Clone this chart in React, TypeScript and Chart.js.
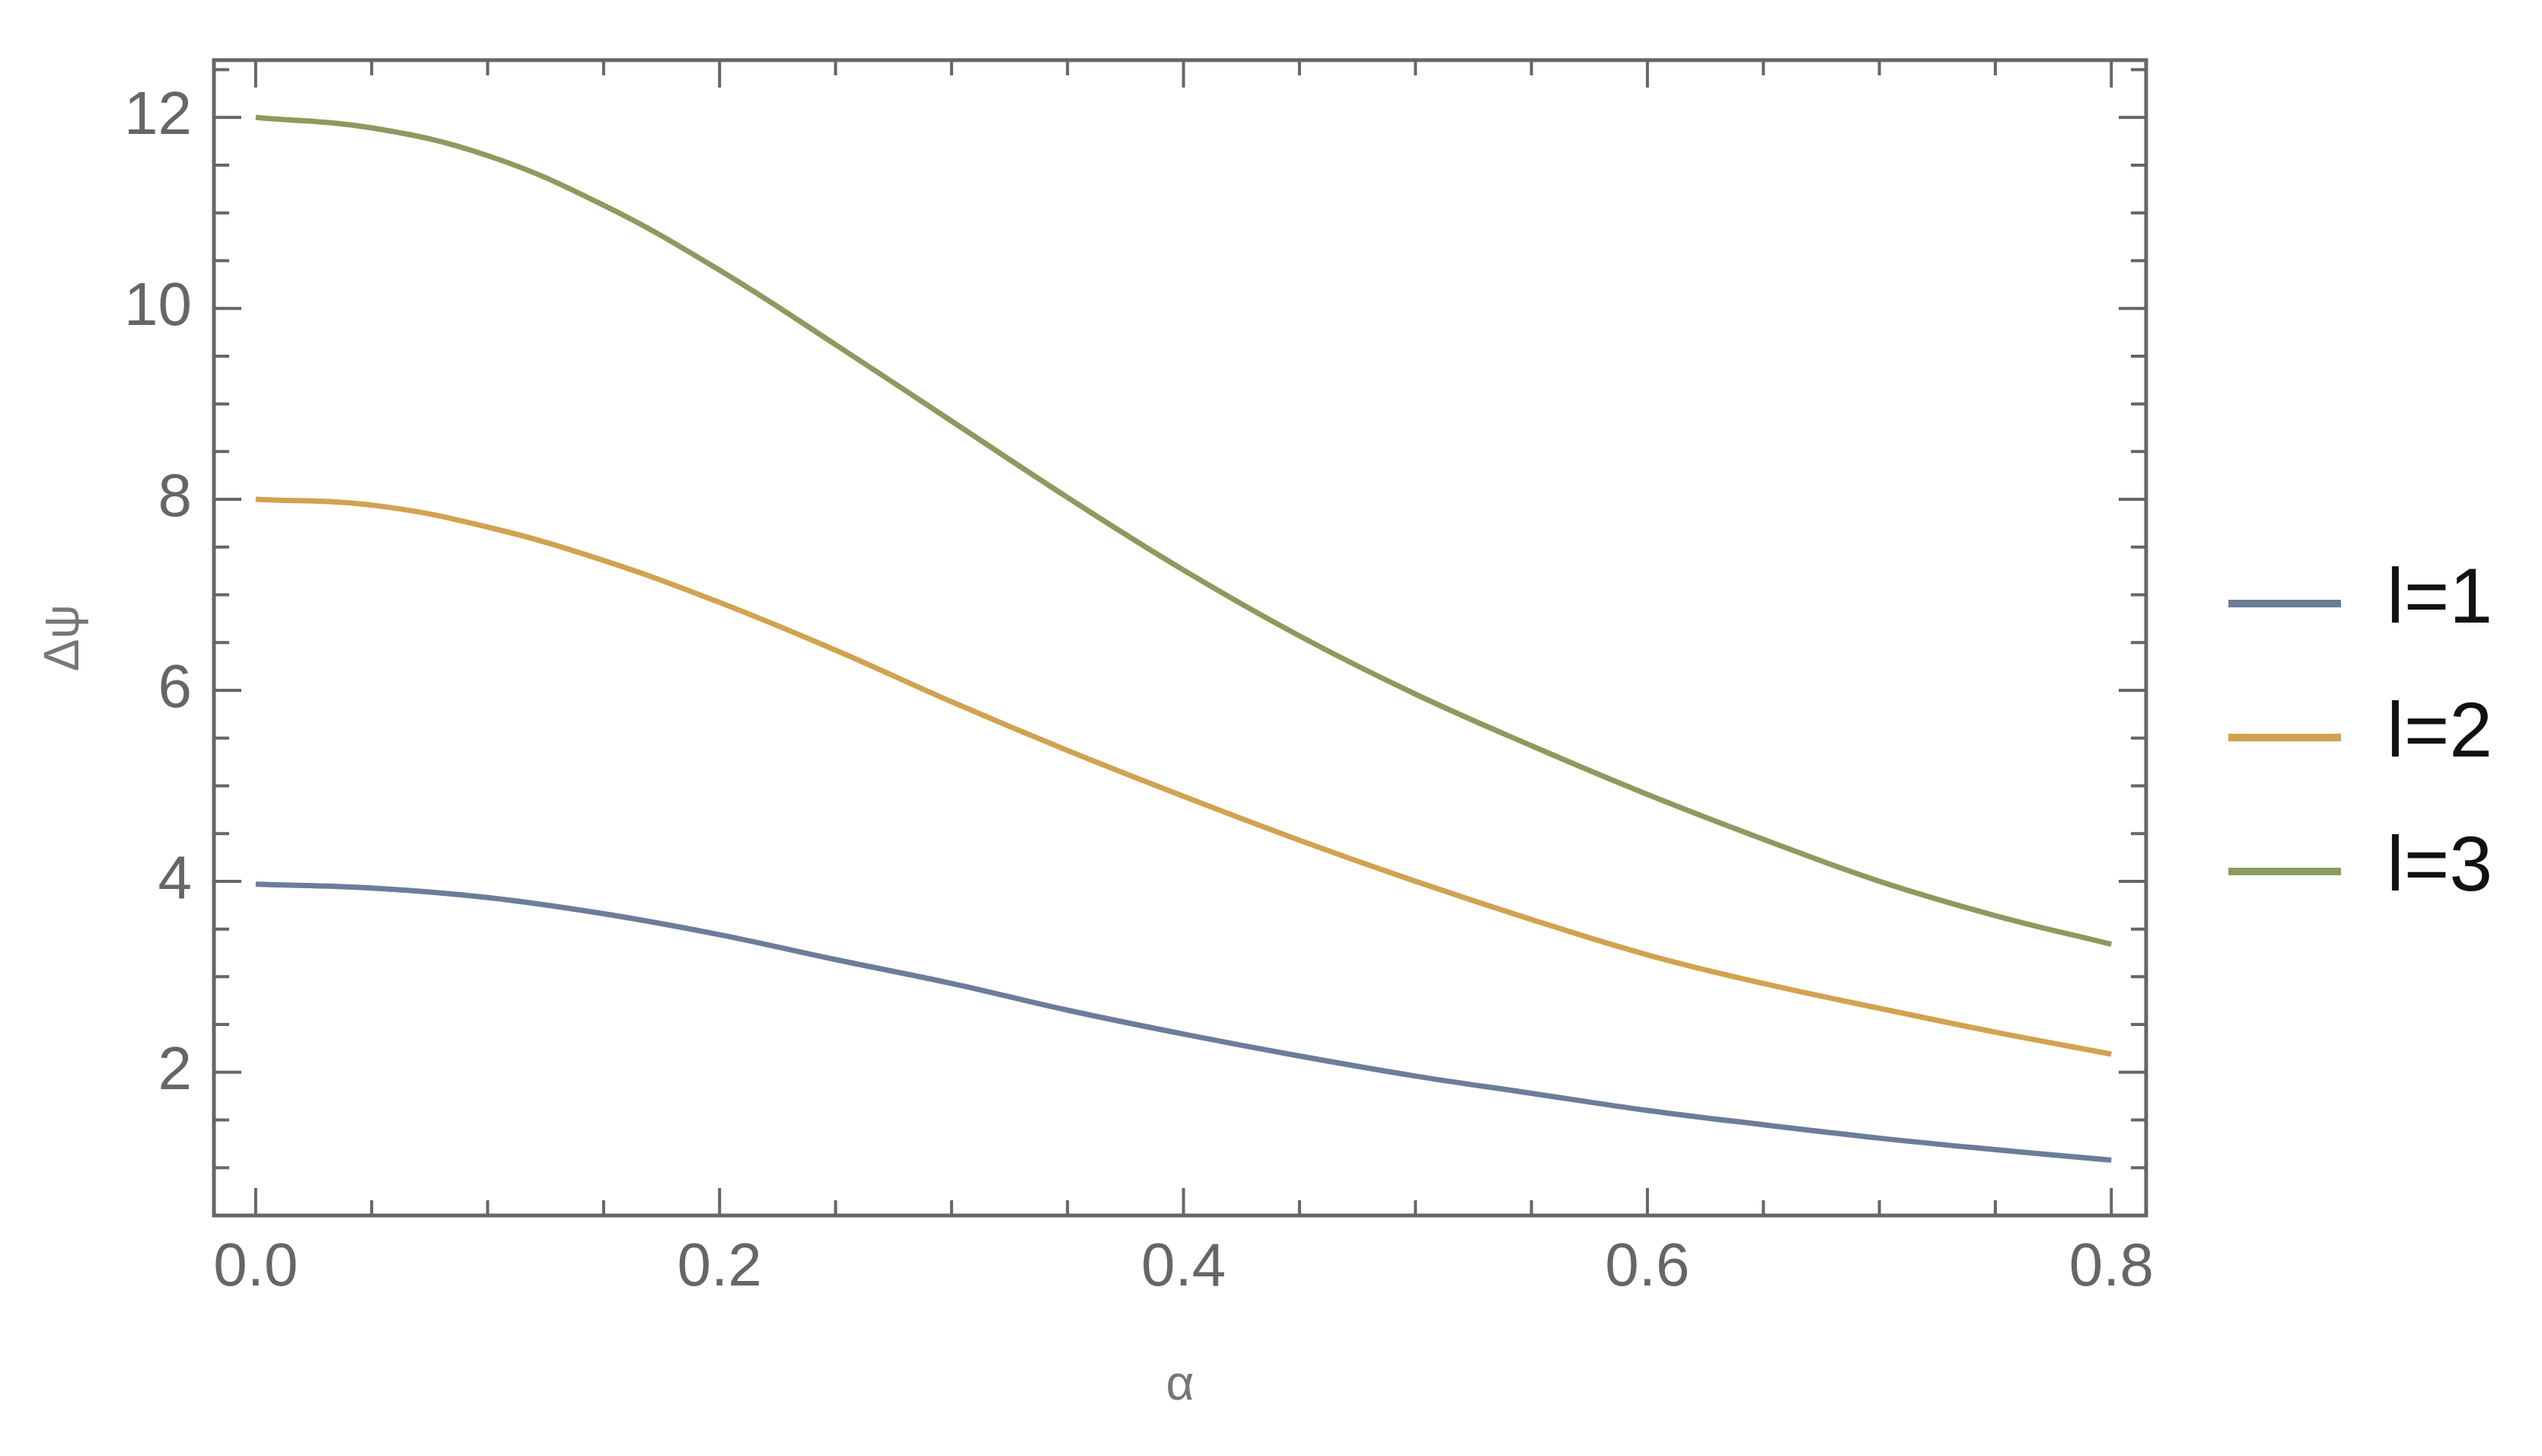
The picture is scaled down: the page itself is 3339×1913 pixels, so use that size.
import React, { useEffect, useRef } from "react";
import { Chart, registerables } from "chart.js";

Chart.register(...registerables);

// ---- data ----
const alpha = [0, 0.05, 0.1, 0.15, 0.2, 0.25, 0.3, 0.35, 0.4, 0.45, 0.5, 0.55, 0.6, 0.65, 0.7, 0.75, 0.8];
const l1 = [3.97, 3.93, 3.83, 3.66, 3.44, 3.18, 2.93, 2.65, 2.40, 2.17, 1.96, 1.78, 1.60, 1.45, 1.31, 1.19, 1.08];
const l2 = [8.0, 7.94, 7.71, 7.36, 6.92, 6.42, 5.88, 5.37, 4.89, 4.43, 4.00, 3.60, 3.23, 2.93, 2.67, 2.42, 2.19];
const l3 = [12.0, 11.89, 11.60, 11.08, 10.40, 9.62, 8.82, 8.02, 7.26, 6.57, 5.96, 5.42, 4.91, 4.44, 4.00, 3.64, 3.34];

const seriesLabels = ["l=1", "l=2", "l=3"];
const seriesColors = ["#6b7d99", "#d2a250", "#8b9b5e"];

const xMajorTicks = [0, 0.2, 0.4, 0.6, 0.8];
const yMajorTicks = [2, 4, 6, 8, 10, 12];
const xMinorStep = 0.05;
const yMinorStep = 0.5;

const xTitle = "α";
const yTitle = "Δψ";

const FONT = "Liberation Sans";
const FRAME = "#666666";

function isMajor(v: number, majors: number[]) {
  return majors.some((m) => Math.abs(m - v) < 1e-6);
}

const frameTicksPlugin = {
  id: "frameTicks",
  afterDraw(chart: any) {
    const { ctx, chartArea: a, scales } = chart;
    const xs = scales.x;
    const ys = scales.y;
    ctx.save();
    ctx.strokeStyle = FRAME;
    ctx.lineWidth = 4;
    const majLen = 36;
    const minLen = 20;
    // x ticks (bottom and top)
    for (let k = 0; ; k++) {
      const v = k * xMinorStep;
      if (v > xs.max + 1e-9) break;
      if (v < xs.min) continue;
      const px = xs.getPixelForValue(v);
      const len = isMajor(v, xMajorTicks) ? majLen : minLen;
      ctx.beginPath();
      ctx.moveTo(px, a.bottom);
      ctx.lineTo(px, a.bottom - len);
      ctx.moveTo(px, a.top);
      ctx.lineTo(px, a.top + len);
      ctx.stroke();
    }
    // y ticks (left and right)
    for (let k = 1; ; k++) {
      const v = k * yMinorStep;
      if (v >= ys.max) break;
      if (v <= ys.min) continue;
      const py = ys.getPixelForValue(v);
      const len = isMajor(v, yMajorTicks) ? majLen : minLen;
      ctx.beginPath();
      ctx.moveTo(a.left, py);
      ctx.lineTo(a.left + len, py);
      ctx.moveTo(a.right, py);
      ctx.lineTo(a.right - len, py);
      ctx.stroke();
    }
    // frame
    ctx.lineWidth = 5;
    ctx.strokeRect(a.left, a.top, a.right - a.left, a.bottom - a.top);

    // legend
    const lx0 = a.right + 108;
    const lx1 = a.right + 256;
    const tx = a.right + 316;
    const ly0 = 793;
    const dy = 176;
    chart.data.datasets.forEach((ds: any, i: number) => {
      const y = ly0 + i * dy;
      ctx.strokeStyle = ds.borderColor;
      ctx.lineWidth = 10;
      ctx.lineCap = "butt";
      ctx.beginPath();
      ctx.moveTo(lx0, y);
      ctx.lineTo(lx1, y);
      ctx.stroke();
      ctx.fillStyle = "#111111";
      ctx.font = `102px "${FONT}"`;
      ctx.textAlign = "left";
      ctx.textBaseline = "middle";
      ctx.fillText(ds.label, tx, y - 3);
    });
    ctx.restore();
  },
};

export default function App() {
  const ref = useRef<HTMLCanvasElement | null>(null);

  useEffect(() => {
    document.body.style.background = "#ffffff";
    const canvas = ref.current;
    if (!canvas) return;
    const series = [l1, l2, l3];
    const chart = new Chart(canvas, {
      type: "line",
      data: {
        datasets: series.map((s, i) => ({
          label: seriesLabels[i],
          data: alpha.map((a, j) => ({ x: a, y: s[j] })),
          borderColor: seriesColors[i],
          backgroundColor: seriesColors[i],
          borderWidth: 7,
          pointRadius: 0,
          fill: false,
          tension: 0.4,
        })),
      },
      options: {
        responsive: false,
        devicePixelRatio: 1,
        animation: false,
        events: [],
        layout: { padding: { left: 0, top: 79, right: 520, bottom: 0 } },
        plugins: {
          legend: { display: false },
          tooltip: { enabled: false },
        },
        scales: {
          x: {
            type: "linear",
            min: -0.018,
            max: 0.815,
            grid: { display: false, drawTicks: false },
            border: { display: false },
            afterBuildTicks: (scale: any) => {
              scale.ticks = xMajorTicks.map((v) => ({ value: v }));
            },
            afterFit: (scale: any) => {
              scale.height = 316;
            },
            ticks: {
              padding: 22,
              color: "#666666",
              font: { family: FONT, size: 80 },
              maxRotation: 0,
              autoSkip: false,
              callback: (v: any) => Number(v).toFixed(1),
            },
            title: {
              display: true,
              text: xTitle,
              color: "#777777",
              font: { family: FONT, size: 64, lineHeight: 1 },
              padding: { top: 0, bottom: 60 },
            },
          },
          y: {
            type: "linear",
            min: 0.5,
            max: 12.6,
            grid: { display: false, drawTicks: false },
            border: { display: false },
            afterBuildTicks: (scale: any) => {
              scale.ticks = yMajorTicks.map((v) => ({ value: v }));
            },
            afterFit: (scale: any) => {
              scale.width = 281;
            },
            ticks: {
              padding: 29,
              color: "#666666",
              font: { family: FONT, size: 80 },
              autoSkip: false,
              callback: (v: any) => String(v),
            },
            title: {
              display: true,
              text: yTitle,
              color: "#777777",
              font: { family: FONT, size: 64, lineHeight: 1 },
              padding: { top: 53, bottom: 0 },
            },
          },
        },
      },
      plugins: [frameTicksPlugin],
    } as any);
    return () => chart.destroy();
  }, []);

  return (
    <div style={{ position: "absolute", left: 0, top: 0, width: 3339, height: 1913, background: "#fff" }}>
      <canvas ref={ref} width={3339} height={1913} style={{ display: "block" }} />
    </div>
  );
}
